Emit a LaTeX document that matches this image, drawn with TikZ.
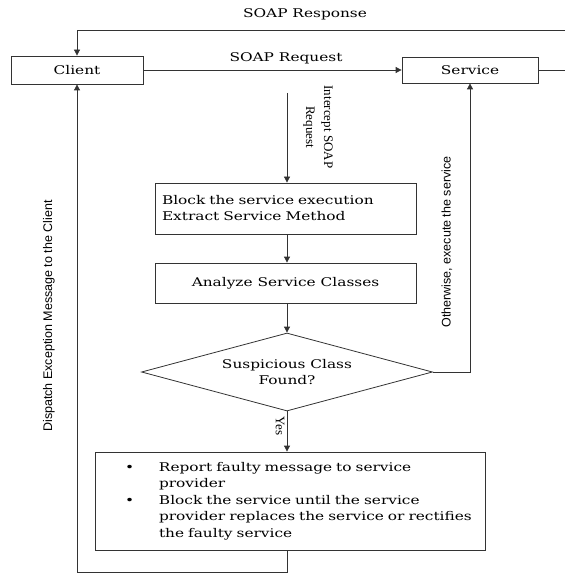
\documentclass[tikz,border=0pt]{standalone}
\usepackage{fontspec}
\usepackage{array}
\setmainfont{DejaVu Serif}[FakeStretch=1.28]
\newfontfamily\sidefont{Liberation Sans}
\newfontfamily\noteserif{Liberation Serif}
\usetikzlibrary{arrows.meta,shapes.geometric}

\tikzset{
	box/.style={shape=rectangle,draw=black!80,line width=0.8pt,inner sep=0pt},
	flow/.style={draw=black!80,line width=0.8pt,-{Triangle[length=6pt,width=6pt]}},
	plain/.style={draw=black!80,line width=0.8pt},
	sidelabel/.style={font=\sidefont\fontsize{12.5}{14}\selectfont},
	notelabel/.style={font=\noteserif\fontsize{13}{18}\selectfont},
}

\begin{document}
\begin{tikzpicture}[x=1pt,y=-1pt,font=\fontsize{12}{16}\selectfont]
	\useasboundingbox (0,0) rectangle (565,577);

	\node[box,minimum width=132pt,minimum height=28pt] (client) at (77,70)   {Client};
	\node[box,minimum width=136pt,minimum height=26pt] (service) at (470,70) {Service};
	\node[box,minimum width=261pt,minimum height=51pt,text width=247pt,align=left] (block) at (285.5,208.5)
		{Block the service execution\\Extract Service Method};
	\node[box,minimum width=261pt,minimum height=40pt] (analyze) at (285.5,283) {Analyze Service Classes};
	\node[shape=diamond,aspect=3.7,draw=black!80,line width=0.8pt,inner sep=0pt,minimum width=291pt,minimum height=78pt,align=center] (decide) at (287,372)
		{Suspicious Class\\Found?};
	\node[box,minimum width=390pt,minimum height=98pt,text width=390pt,align=left] (report) at (290,501)
		{\fontsize{12}{16.5}\selectfont\hspace*{30pt}\begin{tabular}{@{}p{34pt}@{}l@{}}
			\textbullet & Report faulty message to service\\
			            & provider\\
			\textbullet & Block the service until the service\\
			            & provider replaces the service or rectifies\\
			            & the faulty service
		\end{tabular}};

	\coordinate (rspin) at (565,30);
	\coordinate (rspout) at (565,70);
	\coordinate (tap) at (287,93);

	\node (rsplabel) at (305,14)  {SOAP Response};
	\node (reqlabel) at (286,58)  {SOAP Request};
	\node[notelabel,rotate=-90,align=center] (taplabel) at (318,127) {Intercept SOAP\\Request};
	\node[notelabel,rotate=-90] (yeslabel) at (280,426) {Yes};
	\node[sidelabel,rotate=90] (elselabel) at (447,242) {Otherwise, execute the service};
	\node[sidelabel,rotate=90] (faultlabel) at (49,316) {Dispatch Exception Message to the Client};

	\draw[plain] (service.east) -- (rspout);
	\draw[flow] (rspin) -| (client.north);
	\draw[flow] (client.east) -- (service.west);
	\draw[flow] (tap) -- (tap |- block.north);
	\draw[flow] (block.south -| tap) -- (analyze.north -| tap);
	\draw[flow] (analyze.south -| tap) -- (decide.north);
	\draw[flow] (decide.south) -- (report.north -| decide.south);
	\draw[flow] (decide.east) -| (service.south);
	\draw[flow] (report.south -| decide.south) -- ++(0,22) -| (client.south);

\end{tikzpicture}
\end{document}
